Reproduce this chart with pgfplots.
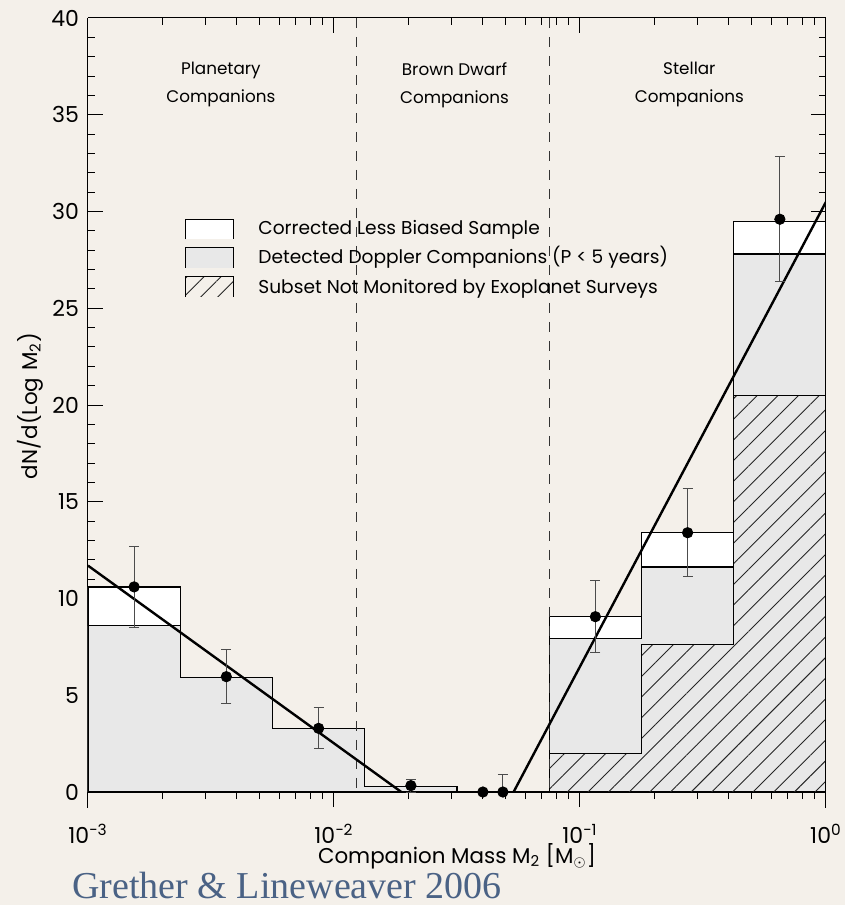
\documentclass[border=0pt]{standalone}
\usepackage{pgfplots}
\pgfplotsset{compat=1.18}
\usepackage{fontspec}
\setmainfont{Poppins}
\newfontfamily\capfont{Liberation Serif}
\usetikzlibrary{patterns.meta}

\definecolor{paper}{RGB}{244,240,234}
\definecolor{barfill}{RGB}{232,232,232}
\definecolor{citeblue}{RGB}{74,98,133}

\begin{document}
\begin{tikzpicture}
\fill[paper] (-44pt,-48.75pt) rectangle (378.5pt,403.75pt);
\path[use as bounding box] (-44pt,-48.75pt) rectangle (378.5pt,403.75pt);

% bin edges: 10^-3 ... 10^0 in steps of 0.375 dex
\begin{axis}[
  width=369pt, height=394.75pt, scale only axis,
  at={(0pt,0pt)}, anchor=south west,
  xmode=log, xmin=1e-3, xmax=1, ymin=-0.8, ymax=40,
  xtick={1e-3,1e-2,1e-1,1},
  major tick length=7.5pt, minor tick length=3.5pt,
  axis line style={line width=0.5pt},
  tick style={black, line width=0.5pt},
  axis x line=middle, axis y line=box,
  x axis line style={-},
  xtick align=outside, ytick align=inside,
  hide obscured x ticks=false, hide obscured y ticks=false,
  xticklabels={10\textsuperscript{−3},10\textsuperscript{−2},10\textsuperscript{−1},10\textsuperscript{0}},
  xticklabel style={font=\fontsize{11}{13}\selectfont, anchor=base, yshift=-18pt},
  ytick={0,5,...,40}, minor y tick num=4,
  yticklabel style={font=\fontsize{11}{13}\selectfont, xshift=-1pt},
  /pgf/number format/assume math mode=true,
]
% corrected less biased sample
\addplot[const plot, fill=white, draw=black, line width=0.6pt] coordinates {
  (1e-3,10.6) (2.371e-3,5.9) (5.623e-3,3.3) (1.334e-2,0.3) (3.162e-2,0)
  (7.499e-2,9.06) (0.1778,13.4) (0.4217,29.5) (1,29.5)} \closedcycle;
% detected doppler companions
\addplot[const plot, fill=barfill, draw=black, line width=0.6pt] coordinates {
  (1e-3,8.6) (2.371e-3,5.9) (5.623e-3,3.3) (1.334e-2,0.3) (3.162e-2,0)
  (7.499e-2,7.93) (0.1778,11.63) (0.4217,27.8) (1,27.8)} \closedcycle;
% subset not monitored
\addplot[const plot, draw=black, line width=0.5pt,
  pattern={Lines[angle=45,distance=7.3pt,line width=0.45pt]}, pattern color=black!85] coordinates {
  (7.499e-2,2.0) (0.1778,7.63) (0.4217,20.5) (1,20.5)} \closedcycle;

% region boundaries
\addplot[black!80, line width=0.5pt, dash pattern=on 5pt off 4.5pt] coordinates {(0.01229,40) (0.01229,0)};
\addplot[black!80, line width=0.5pt, dash pattern=on 5pt off 4.5pt] coordinates {(0.0755,40) (0.0755,0)};

% power-law fits
\addplot[black, line width=1.2pt] coordinates {(1e-3,11.7) (1.879e-2,0)};
\addplot[black, line width=1.2pt] coordinates {(0.0537,0) (1,30.5)};

% measured points
\addplot[only marks, mark=*, mark size=2.6pt, black,
  error bars/.cd, y dir=both, y explicit,
  error bar style={black!70, line width=0.5pt},
  error mark options={rotate=90, black!70, mark size=2.5pt, line width=0.5pt}]
coordinates {
  (1.540e-3,10.6) +- (0,2.1)
  (3.652e-3,5.96) +- (0,1.4)
  (8.660e-3,3.29) +- (0,1.06)
  (2.054e-2,0.33) +- (0,0.33)
  (4.03e-2,0) +- (0,0)
  (4.86e-2,0) += (0,0.88) -= (0,0)
  (0.1155,9.06) +- (0,1.85)
  (0.2738,13.4) +- (0,2.27)
  (0.6494,29.6) +- (0,3.23)
};

\node[align=center, font=\fontsize{8.4}{14}\selectfont] at (axis cs:3.47e-3,36.54) {Planetary\\Companions};
\node[align=center, font=\fontsize{8.4}{14}\selectfont] at (axis cs:0.0309,36.54) {Brown Dwarf\\Companions};
\node[align=center, font=\fontsize{8.4}{14}\selectfont] at (axis cs:0.2784,36.54) {Stellar\\Companions};
\end{axis}

\begin{axis}[
  width=369pt, height=394.75pt, scale only axis,
  at={(0pt,0pt)}, anchor=south west,
  xmode=log, xmin=1e-3, xmax=1, ymin=-0.8, ymax=40,
  xtick={1e-3,1e-2,1e-1,1},
  major tick length=7.5pt, minor tick length=3.5pt,
  axis line style={line width=0.5pt},
  tick style={black, line width=0.5pt},
  axis x line=top, axis y line=none,
  x axis line style={-},
  tick align=inside, xticklabels={}, ytick=\empty,
]
\end{axis}

% axis labels
\node[anchor=base, font=\fontsize{10.7}{12}\selectfont] at (184.5pt,-28pt)
  {Companion Mass M\textsubscript{2} [M\textsubscript{$\odot$}]};
\node[rotate=90, anchor=center, inner sep=0pt, font=\fontsize{10.7}{12}\selectfont] at (-29pt,200.75pt)
  {dN/d(Log\,\,M\textsubscript{2})};

% legend
\begin{scope}[font=\fontsize{9.3}{11}\selectfont]
\fill[white] (48.5pt,284pt) rectangle (72.5pt,294pt);
\draw[black, line width=0.5pt] (48.5pt,284pt) -- (48.5pt,294pt) -- (72.5pt,294pt) -- (72.5pt,284pt);
\node[anchor=base west, inner sep=0pt] at (85pt,286.25pt) {Corrected Less Biased Sample};
\fill[barfill] (48.5pt,269.75pt) rectangle (72.5pt,279.75pt);
\draw[black, line width=0.5pt] (48.5pt,269.75pt) -- (48.5pt,279.75pt) -- (72.5pt,279.75pt) -- (72.5pt,269.75pt);
\node[anchor=base west, inner sep=0pt] at (85pt,271.75pt) {Detected Doppler Companions (P < 5 years)};
\path[pattern={Lines[angle=45,distance=6pt,line width=0.45pt]}, pattern color=black!85] (48.5pt,255.25pt) rectangle (72.5pt,265.25pt);
\draw[black, line width=0.5pt] (48.5pt,255.25pt) -- (48.5pt,265.25pt) -- (72.5pt,265.25pt) -- (72.5pt,255.25pt);
\node[anchor=base west, inner sep=0pt] at (85pt,257.1pt) {Subset Not Monitored by Exoplanet Surveys};
\end{scope}

\node[anchor=base west, font=\capfont\fontsize{19}{22}\selectfont, text=citeblue, inner sep=0pt] at (-8pt,-45.25pt) {Grether \& Lineweaver 2006};
\end{tikzpicture}
\end{document}
